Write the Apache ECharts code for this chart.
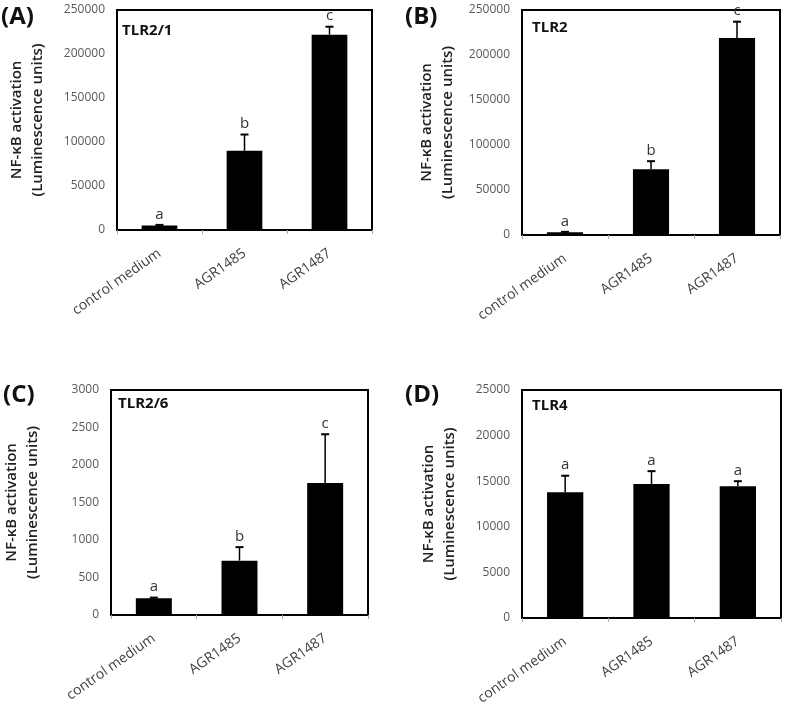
<!DOCTYPE html>
<html>
<head>
<meta charset="utf-8">
<script src="https://cdn.jsdelivr.net/npm/echarts@6/dist/echarts.min.js"></script>
<style>
html,body{margin:0;padding:0;background:#fff;}
#c{width:787px;height:718px;}
</style>
</head>
<body>
<div id="c"></div>
<script>
const categories = ['control medium', 'AGR1485', 'AGR1487'];

const tlr21Means = [5000, 90000, 222000];
const tlr21Errs = [800, 18500, 9000];
const tlr21Letters = ['a', 'b', 'c'];

const tlr2Means = [3000, 73000, 219000];
const tlr2Errs = [500, 9000, 18000];
const tlr2Letters = ['a', 'b', 'c'];

const tlr26Means = [222, 725, 1760];
const tlr26Errs = [10, 180, 650];
const tlr26Letters = ['a', 'b', 'c'];

const tlr4Means = [13800, 14700, 14450];
const tlr4Errs = [1800, 1400, 550];
const tlr4Letters = ['a', 'a', 'a'];

const panelLabels = ['(A)', '(B)', '(C)', '(D)'];
const receptorNames = ['TLR2/1', 'TLR2', 'TLR2/6', 'TLR4'];
const yMaxes = [250000, 250000, 3000, 25000];
const yIntervals = [50000, 50000, 500, 5000];
const yNameLines = ['NF-\u03baB activation', '(Luminescence units)'];

const FONT = '"Open Sans", "Noto Sans", sans-serif';

const panels = [
  {means: tlr21Means, errs: tlr21Errs, letters: tlr21Letters},
  {means: tlr2Means, errs: tlr2Errs, letters: tlr2Letters},
  {means: tlr26Means, errs: tlr26Errs, letters: tlr26Letters},
  {means: tlr4Means, errs: tlr4Errs, letters: tlr4Letters}
];

const grids = [
  {left: 117, top: 10, width: 255, height: 220},
  {left: 522, top: 10, width: 258, height: 225},
  {left: 111, top: 390, width: 257, height: 225},
  {left: 522, top: 390, width: 259, height: 228}
];
const nameGaps = [69, 64, 68, 62];
const panelLabelPos = [[1, 5], [405, 5], [3, 383], [405, 383]];
const receptorPos = [[122, 23], [532, 20], [118, 396], [532, 398]];

function errRender(letters) {
  return function (params, api) {
    const x = api.value(0), m = api.value(1), e = api.value(2);
    const base = api.coord([x, m]);
    const top = api.coord([x, m + e]);
    return {
      type: 'group',
      children: [
        {type: 'line', shape: {x1: top[0], y1: base[1], x2: top[0], y2: top[1]},
         style: {stroke: '#000', lineWidth: 1.5}},
        {type: 'line', shape: {x1: top[0] - 4, y1: top[1], x2: top[0] + 4, y2: top[1]},
         style: {stroke: '#000', lineWidth: 2}},
        {type: 'text', x: top[0], y: top[1] - 3,
         style: {text: letters[params.dataIndex], fill: '#333', fontSize: 15,
                 fontFamily: FONT, align: 'center', verticalAlign: 'bottom'}}
      ]
    };
  };
}

const option = {
  animation: false,
  backgroundColor: '#fff',
  title: [],
  grid: grids.map(g => Object.assign({show: true, borderColor: '#000', borderWidth: 2, containLabel: false}, g)),
  xAxis: grids.map((g, i) => ({
    type: 'category', gridIndex: i, data: categories,
    axisLine: {show: true, lineStyle: {color: '#000', width: 2}},
    axisTick: {show: true, length: 4, lineStyle: {color: '#aaa'}},
    axisLabel: {rotate: 35, margin: 22, color: '#404040', fontSize: 14, fontFamily: FONT, interval: 0}
  })),
  yAxis: grids.map((g, i) => ({
    type: 'value', gridIndex: i, min: 0, max: yMaxes[i], interval: yIntervals[i],
    splitLine: {show: false},
    axisLine: {show: true, lineStyle: {color: '#000', width: 2}},
    axisTick: {show: false},
    axisLabel: {color: '#595959', fontSize: 12, fontFamily: FONT, margin: 12,
                formatter: v => String(v)},
    name: yNameLines.join('\n'),
    nameLocation: 'middle', nameGap: nameGaps[i], nameRotate: 90,
    nameTextStyle: {color: '#222', fontSize: 15, fontWeight: 600, fontFamily: FONT, lineHeight: 21}
  })),
  series: []
};

panels.forEach((p, i) => {
  option.title.push({
    text: panelLabels[i], left: panelLabelPos[i][0], top: panelLabelPos[i][1], padding: 0,
    textStyle: {fontSize: 24, fontWeight: 'bold', color: '#111', fontFamily: FONT}
  });
  option.title.push({
    text: receptorNames[i], left: receptorPos[i][0], top: receptorPos[i][1], padding: 0,
    textStyle: {fontSize: 15, fontWeight: 'bold', color: '#111', fontFamily: FONT}
  });
  option.series.push({
    type: 'bar', xAxisIndex: i, yAxisIndex: i, data: p.means, barWidth: '42%',
    itemStyle: {color: '#000'}, silent: true
  });
  option.series.push({
    type: 'custom', xAxisIndex: i, yAxisIndex: i, z: 5,
    renderItem: errRender(p.letters),
    encode: {x: 0, y: 1},
    data: p.means.map((m, k) => [k, m, p.errs[k]])
  });
});

const chart = echarts.init(document.getElementById('c'), null, {renderer: 'canvas'});
chart.setOption(option);
</script>
</body>
</html>
